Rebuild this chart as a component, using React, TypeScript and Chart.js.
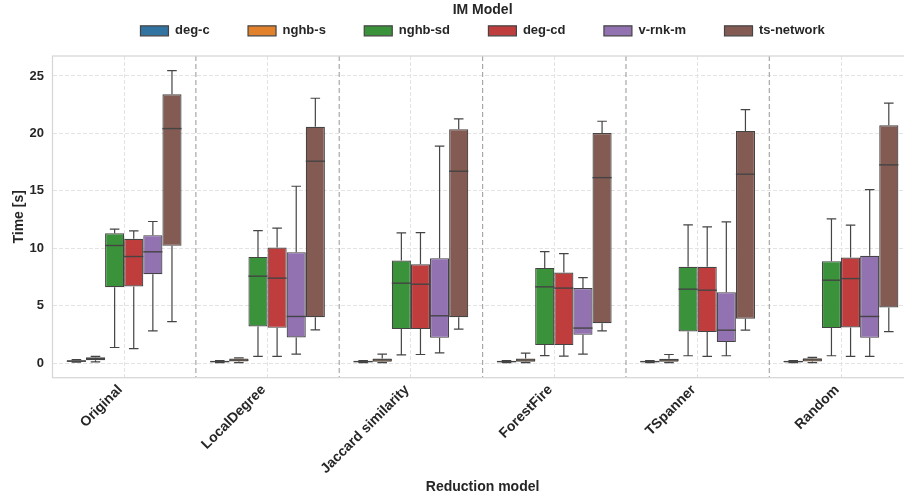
import React, { useEffect, useRef } from 'react';
import { Chart, registerables } from 'chart.js';

Chart.register(...registerables);

const categories = ['Original', 'LocalDegree', 'Jaccard similarity', 'ForestFire', 'TSpanner', 'Random'];
const seriesNames = ['deg-c', 'nghb-s', 'nghb-sd', 'deg-cd', 'v-rnk-m', 'ts-network'];
const seriesColors = ['#3274a1', '#e1812c', '#3a923a', '#c03d3e', '#9372b2', '#845b53'];

// [whiskerLow, q1, median, q3, whiskerHigh] per category
const degC = [
  [0.08, 0.12, 0.17, 0.24, 0.3],
  [0.05, 0.09, 0.13, 0.18, 0.22],
  [0.05, 0.09, 0.13, 0.18, 0.22],
  [0.05, 0.09, 0.13, 0.18, 0.22],
  [0.05, 0.09, 0.13, 0.18, 0.22],
  [0.05, 0.09, 0.13, 0.18, 0.22],
];
const nghbS = [
  [0.1, 0.25, 0.38, 0.52, 0.58],
  [0.05, 0.13, 0.26, 0.4, 0.45],
  [0.05, 0.12, 0.28, 0.4, 0.78],
  [0.05, 0.12, 0.27, 0.4, 0.87],
  [0.05, 0.12, 0.27, 0.38, 0.75],
  [0.05, 0.13, 0.28, 0.42, 0.5],
];
const nghbSd = [
  [1.36, 6.61, 10.24, 11.31, 11.66],
  [0.58, 3.19, 7.57, 9.25, 11.54],
  [0.72, 2.96, 6.96, 8.93, 11.34],
  [0.66, 1.57, 6.64, 8.29, 9.71],
  [0.64, 2.75, 6.44, 8.38, 12.04],
  [0.64, 3.05, 7.22, 8.88, 12.56],
];
const degCd = [
  [1.27, 6.67, 9.28, 10.82, 11.51],
  [0.58, 3.07, 7.4, 10.06, 11.75],
  [0.75, 2.96, 6.87, 8.61, 11.37],
  [0.61, 1.57, 6.53, 7.89, 9.54],
  [0.58, 2.7, 6.35, 8.38, 11.86],
  [0.58, 3.1, 7.36, 9.19, 12.01],
];
const vRnkM = [
  [2.81, 7.74, 9.69, 11.14, 12.33],
  [0.78, 2.23, 4.06, 9.66, 15.4],
  [0.9, 2.2, 4.12, 9.14, 18.89],
  [0.78, 2.46, 3.05, 6.53, 7.45],
  [0.64, 1.83, 2.87, 6.18, 12.3],
  [0.58, 2.2, 4.06, 9.34, 15.11],
];
const tsNetwork = [
  [3.62, 10.21, 20.42, 23.41, 25.47],
  [2.9, 4.0, 17.58, 20.57, 23.06],
  [2.96, 4.0, 16.71, 20.37, 21.26],
  [2.81, 3.48, 16.15, 20.04, 21.06],
  [2.87, 3.86, 16.45, 20.22, 22.07],
  [2.75, 4.84, 17.26, 20.71, 22.63],
];
const allSeries = [degC, nghbS, nghbSd, degCd, vRnkM, tsNetwork];

const yTicks = [0, 5, 10, 15, 20, 25];
const yMin = -1.27;
const yMax = 26.74;

const FONT = "'Liberation Sans', Arial, sans-serif";
const TEXT = '#262626';
const LINE = '#444444';

const boxPlugin = {
  id: 'boxWhiskers',
  beforeDatasetsDraw(chart: any) {
    const { ctx, chartArea, scales } = chart;
    const x = scales.x;
    ctx.save();
    ctx.strokeStyle = '#a8a8a8';
    ctx.lineWidth = 1.2;
    ctx.setLineDash([5, 3]);
    for (let i = 0; i < categories.length - 1; i++) {
      const px = (x.getPixelForValue(i) + x.getPixelForValue(i + 1)) / 2;
      ctx.beginPath();
      ctx.moveTo(px, chartArea.top);
      ctx.lineTo(px, chartArea.bottom);
      ctx.stroke();
    }
    ctx.restore();
  },
  afterDatasetsDraw(chart: any) {
    const { ctx, chartArea, scales } = chart;
    const y = scales.y;
    ctx.save();
    ctx.strokeStyle = LINE;
    ctx.lineWidth = 1.2;
    chart.data.datasets.forEach((_ds: any, di: number) => {
      const meta = chart.getDatasetMeta(di);
      const stats = allSeries[di];
      meta.data.forEach((el: any, i: number) => {
        const [lo, q1, med, q3, hi] = stats[i];
        const { x: cx, width } = el.getProps(['x', 'width'], true);
        const half = width / 2;
        const cap = width / 4;
        const yLo = y.getPixelForValue(lo);
        const yQ1 = y.getPixelForValue(q1);
        const yMed = y.getPixelForValue(med);
        const yQ3 = y.getPixelForValue(q3);
        const yHi = y.getPixelForValue(hi);
        ctx.beginPath();
        ctx.moveTo(cx, yQ3);
        ctx.lineTo(cx, yHi);
        ctx.moveTo(cx - cap, yHi);
        ctx.lineTo(cx + cap, yHi);
        ctx.moveTo(cx, yQ1);
        ctx.lineTo(cx, yLo);
        ctx.moveTo(cx - cap, yLo);
        ctx.lineTo(cx + cap, yLo);
        ctx.stroke();
        ctx.beginPath();
        ctx.lineWidth = 1.4;
        ctx.moveTo(cx - half, yMed);
        ctx.lineTo(cx + half, yMed);
        ctx.stroke();
        ctx.lineWidth = 1.2;
      });
    });
    ctx.restore();
    ctx.save();
    ctx.strokeStyle = '#d6d6d6';
    ctx.lineWidth = 1.25;
    ctx.strokeRect(chartArea.left, chartArea.top, chartArea.right - chartArea.left, chartArea.bottom - chartArea.top);
    ctx.restore();
  },
};

const legendHeightPlugin = {
  id: 'legendHeight',
  afterInit(chart: any) {
    const lg = chart.legend;
    if (lg && !lg.__patched) {
      const fit = lg.fit.bind(lg);
      lg.fit = function () {
        fit();
        this.height = 56;
      };
      lg.__patched = true;
    }
  },
};

export default function App() {
  const ref = useRef<HTMLCanvasElement | null>(null);
  useEffect(() => {
    if (!ref.current) return;
    const chart = new Chart(ref.current, {
      type: 'bar',
      data: {
        labels: categories,
        datasets: seriesNames.map((name, si) => ({
          label: name,
          data: allSeries[si].map((s) => [s[1], s[3]]),
          backgroundColor: seriesColors[si],
          borderColor: LINE,
          borderWidth: 1.2,
          borderSkipped: false,
          categoryPercentage: 0.8,
          barPercentage: 1.0,
        })) as any,
      },
      options: {
        responsive: false,
        animation: false,
        devicePixelRatio: 1,
        layout: { padding: { left: 0, right: 7.3, top: 0, bottom: 0 } },
        plugins: {
          tooltip: { enabled: false },
          legend: {
            position: 'top',
            fullSize: false,
            title: {
              display: true,
              text: 'IM Model',
              color: TEXT,
              font: { family: FONT, size: 14, weight: 'bold' },
              padding: { top: 3.4, bottom: -34.3 },
            },
            labels: {
              boxWidth: 28,
              boxHeight: 10,
              padding: 38.4,
              color: TEXT,
              font: { family: FONT, size: 13, weight: 'bold' },
            },
          },
        },
        scales: {
          x: {
            type: 'category',
            grid: { offset: false, color: '#e3e3e3', lineWidth: 1, drawTicks: false },
            border: { display: false, dash: [4, 2] },
            ticks: {
              autoSkip: false,
              maxRotation: 45,
              minRotation: 45,
              padding: 4,
              labelOffset: -4,
              color: TEXT,
              font: { family: FONT, size: 14, weight: 'bold' },
            },
            title: {
              display: true,
              text: 'Reduction model',
              color: TEXT,
              font: { family: FONT, size: 14, weight: 'bold' },
              padding: { top: 0, bottom: 6 },
            },
            afterFit(scale: any) {
              scale.height = 124.3;
            },
          },
          y: {
            type: 'linear',
            min: yMin,
            max: yMax,
            grid: { color: '#e3e3e3', lineWidth: 1, drawTicks: false },
            border: { display: false, dash: [4, 2] },
            afterBuildTicks(scale: any) {
              scale.ticks = yTicks.map((v) => ({ value: v }));
            },
            ticks: {
              padding: 8.5,
              color: TEXT,
              font: { family: FONT, size: 13, weight: 'bold' },
            },
            title: {
              display: true,
              text: 'Time [s]',
              color: TEXT,
              font: { family: FONT, size: 14, weight: 'bold' },
              padding: { top: 10.5, bottom: 0 },
            },
            afterFit(scale: any) {
              scale.width = 52.5;
            },
          },
        },
      },
      plugins: [boxPlugin, legendHeightPlugin],
    });
    return () => chart.destroy();
  }, []);
  return (
    <div style={{ position: 'fixed', left: 0, top: 0, width: 904, height: 502, overflow: 'hidden', background: '#fff' }}>
      <canvas ref={ref} width={920} height={502} style={{ width: 920, height: 502, display: 'block' }} />
    </div>
  );
}
